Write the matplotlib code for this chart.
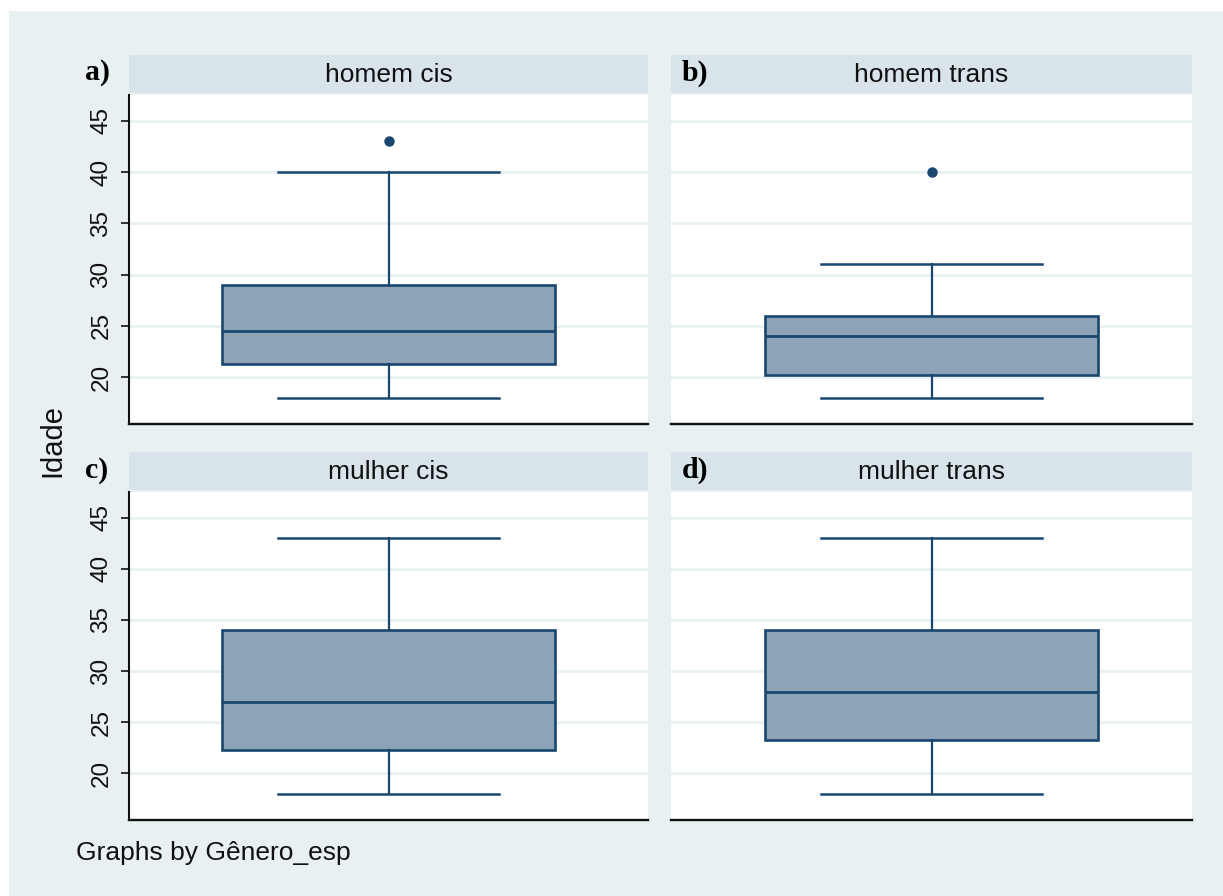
import matplotlib
matplotlib.use("Agg")
import matplotlib.pyplot as plt
from matplotlib.patches import Rectangle

# Age distribution (box summary) by gender group
groups = ["homem cis", "homem trans", "mulher cis", "mulher trans"]
panel_tags = ["a)", "b)", "c)", "d)"]
q1 = [21.25, 20.25, 22.25, 23.25]
medians = [24.5, 24.0, 27.0, 28.0]
q3 = [29.0, 26.0, 34.0, 34.0]
whisker_low = [18.0, 18.0, 18.0, 18.0]
whisker_high = [40.0, 31.0, 43.0, 43.0]
outliers = [[43.0], [40.0], [], []]
y_ticks = [20, 25, 30, 35, 40, 45]

W, H = 1223, 896
NAVY = "#1a476f"
FILL = "#8ca3b8"
BG = "#e8f0f2"
STRIP = "#d8e4ea"
GRID = "#e9f1f3"
TXT = "#111111"
SANS = "Liberation Sans"

fig = plt.figure(figsize=(W / 100, H / 100), dpi=100, facecolor="white")
fig.patches.append(Rectangle((9 / W, 0), 1 - 9 / W, (H - 11) / H,
                             transform=fig.transFigure, facecolor=BG,
                             edgecolor="none", zorder=-10))


def fx(px):
    return px / W


def fy(py):
    return 1 - py / H


# panel boxes in pixel coordinates: (left, right) and (strip_top, strip_bottom, plot_top, plot_bottom)
cols = [(129, 648), (671, 1192)]
rows = [(55, 93, 95, 424), (452, 490, 492, 820)]

for i, name in enumerate(groups):
    r, c = divmod(i, 2)
    x0, x1 = cols[c]
    st, sb, pt, pb = rows[r]

    # strip header
    fig.patches.append(Rectangle((fx(x0), fy(sb)), fx(x1 - x0), (sb - st) / H,
                                 transform=fig.transFigure, facecolor=STRIP,
                                 edgecolor="none", zorder=-5))
    fig.text(fx((x0 + x1) / 2), fy((st + sb) / 2 + 1), name, ha="center", va="center",
             fontsize=19, family=SANS, color=TXT)
    fig.text(fx(x0 - 44 if c == 0 else x0 + 11), fy((st + sb) / 2 - 1), panel_tags[i],
             ha="left", va="center", fontsize=21.5, family="Liberation Serif",
             fontweight="bold", color="black")

    ax = fig.add_axes([fx(x0), fy(pb), fx(x1 - x0), (pb - pt) / H])
    ax.set_facecolor("white")
    stats = [dict(med=medians[i], q1=q1[i], q3=q3[i], whislo=whisker_low[i],
                  whishi=whisker_high[i], fliers=outliers[i])]
    ax.bxp(stats, positions=[0], widths=0.64, capwidths=0.425, patch_artist=True,
           boxprops=dict(facecolor=FILL, edgecolor=NAVY, linewidth=1.9),
           medianprops=dict(color=NAVY, linewidth=2.0),
           whiskerprops=dict(color=NAVY, linewidth=1.6),
           capprops=dict(color=NAVY, linewidth=1.8),
           flierprops=dict(marker="o", markerfacecolor=NAVY, markeredgecolor=NAVY,
                           markersize=6.5),
           zorder=3)
    ax.set_xlim(-0.5, 0.5)
    ax.set_ylim(15.45, 47.5)
    ax.set_xticks([])
    ax.set_yticks(y_ticks)
    ax.yaxis.grid(True, color=GRID, linewidth=2.2, zorder=0)
    ax.set_axisbelow(True)
    for side in ("top", "right"):
        ax.spines[side].set_visible(False)
    ax.spines["bottom"].set_color("#111111")
    ax.spines["bottom"].set_linewidth(1.7)
    if c == 0:
        ax.spines["left"].set_color("#111111")
        ax.spines["left"].set_linewidth(1.5)
        ax.tick_params(axis="y", length=6, width=1.2, color="#111111", pad=6,
                       labelsize=17.5, labelcolor=TXT)
        for lab in ax.get_yticklabels():
            lab.set_rotation(90)
            lab.set_va("center")
            lab.set_family(SANS)
    else:
        ax.spines["left"].set_visible(False)
        ax.tick_params(axis="y", length=0, labelleft=False)

fig.text(fx(52), fy(440), "Idade", rotation=90, ha="center", va="center",
         fontsize=21, family=SANS, color=TXT)
fig.text(fx(76), fy(853), "Graphs by Gênero_esp", ha="left", va="center",
         fontsize=19, family=SANS, color=TXT)

fig.savefig("out.png", dpi=100, facecolor="white")
